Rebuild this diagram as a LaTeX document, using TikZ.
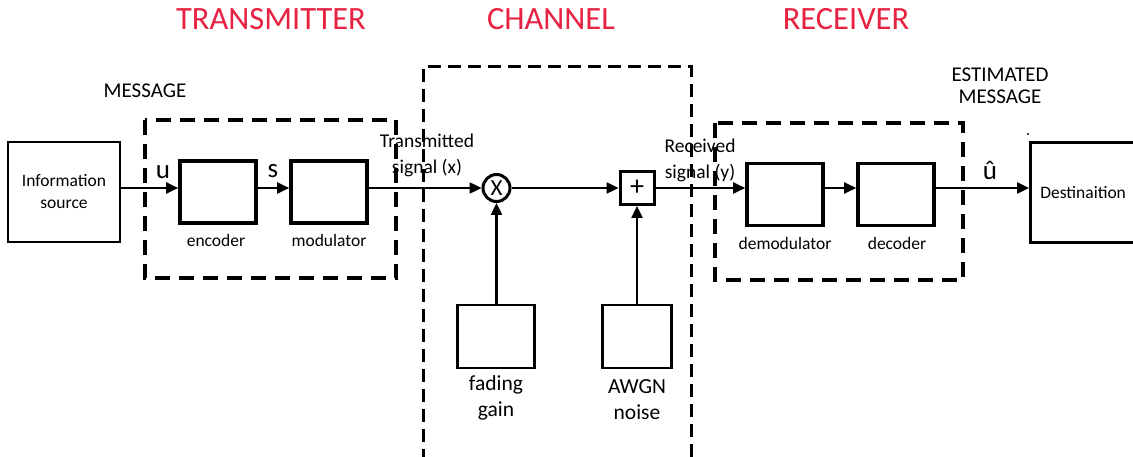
\documentclass[tikz,border=0pt]{standalone}
\usepackage{fontspec}
\setmainfont{Carlito}
\usetikzlibrary{arrows.meta}
\definecolor{titlered}{RGB}{232,34,66}
\tikzset{
  blk/.style={draw, line width=3.6pt, minimum width=76pt, minimum height=62pt, inner sep=0pt},
  sbox/.style={draw, line width=2.6pt, inner sep=0pt},
  lbl/.style={font=\fontsize{17.5}{22}\selectfont, align=center, inner sep=0pt},
  sig/.style={font=\fontsize{19.5}{26}\selectfont, align=center, inner sep=0pt},
  big/.style={font=\fontsize{21}{22}\selectfont, align=center, inner sep=0pt},
  sym/.style={font=\fontsize{27}{27}\selectfont, inner sep=0pt},
  conn/.style={line width=2.4pt, -{Triangle[length=12pt,width=11pt]}},
  region/.style={line width=3.6pt, dash pattern=on 15pt off 9pt},
  chregion/.style={line width=3pt, dash pattern=on 13pt off 7pt},
  title/.style={text=titlered, font=\fontsize{32.5}{36}\selectfont, inner sep=0pt}
}
\begin{document}
\begin{tikzpicture}[x=1pt,y=-1pt]
\useasboundingbox (0,0) rectangle (1133,457);
\clip (0,0) rectangle (1133,457);

% titles
\node[title] (tTx) at (271,19) {TRANSMITTER};
\node[title] (tCh) at (551,19) {CHANNEL};
\node[title] (tRx) at (846,19) {RECEIVER};

% region boxes
\draw[region] (145,120) rectangle (396,278);
\draw[chregion] (423,462) -- (423,67) -- (691,67) -- (691,462);
\draw[region] (715,123) rectangle (963,280);

% headings
\node[big] (msg) at (145,91) {MESSAGE};
\node[big] (emsg) at (1000,86) {ESTIMATED\\MESSAGE};

% blocks
\node[sbox, minimum width=112pt, minimum height=100pt, lbl] (src) at (64,192) {Information\\source};
\node[blk] (enc) at (218,192) {};
\node[blk] (mod) at (329,192) {};
\node[blk] (dem) at (785,194.5) {};
\node[blk] (dec) at (896,194.5) {};
\node[sbox, minimum width=112pt, minimum height=100pt, lbl, anchor=west, text width=112pt, align=left] (dst) at (1029,192.5) {\hspace*{10pt}Destinaition};

% channel parts
\node[draw, circle, line width=3pt, minimum size=27pt, inner sep=0pt, font=\fontsize{23}{23}\selectfont] (mul) at (496.5,188) {X};
\node[draw, line width=3pt, minimum width=34pt, minimum height=33pt, inner sep=0pt, font=\fontsize{28}{28}\selectfont] (add) at (637,188) {+};
\node[sbox, minimum width=77pt, minimum height=63pt] (fad) at (496,336.5) {};
\node[sbox, minimum width=69pt, minimum height=63pt] (awgn) at (637,336.5) {};

% labels
\node[lbl] (lenc) at (216,240) {encoder};
\node[lbl] (lmod) at (329,240) {modulator};
\node[lbl] (ldem) at (785,243) {demodulator};
\node[lbl] (ldec) at (897,243) {decoder};
\node[sig] (ltx) at (427,155) {Transmitted\\signal (x)};
\node[sig] (lrx) at (700,160) {Received\\signal (y)};
\node[big, font=\fontsize{21.5}{26}\selectfont] (lfad) at (496,398) {fading\\gain};
\node[big, font=\fontsize{21.5}{26}\selectfont] (lawgn) at (637,400) {AWGN\\noise};
\node[sym] (lu) at (163,172) {u};
\node[sym] (ls) at (273,171) {s};
\node[sym] (luh) at (990,170) {û};

% stray dot
\fill (1028,134) circle (1.2pt);

% connectors
\draw[conn] (src.east |- mul) -- (enc.west |- mul);
\draw[conn] (enc.east |- mul) -- (mod.west |- mul);
\draw[conn] (mod.east |- mul) -- (mul.west);
\draw[conn] (mul.east) -- (add.west);
\draw[conn] (add.east) -- (dem.west |- add);
\draw[conn] (dem.east |- add) -- (dec.west |- add);
\draw[conn] (dec.east |- add) -- (dst.west |- add);
\draw[conn] (mul.south |- fad.north) -- (mul.south);
\draw[conn] (awgn.north) -- (add.south);
\end{tikzpicture}
\end{document}
